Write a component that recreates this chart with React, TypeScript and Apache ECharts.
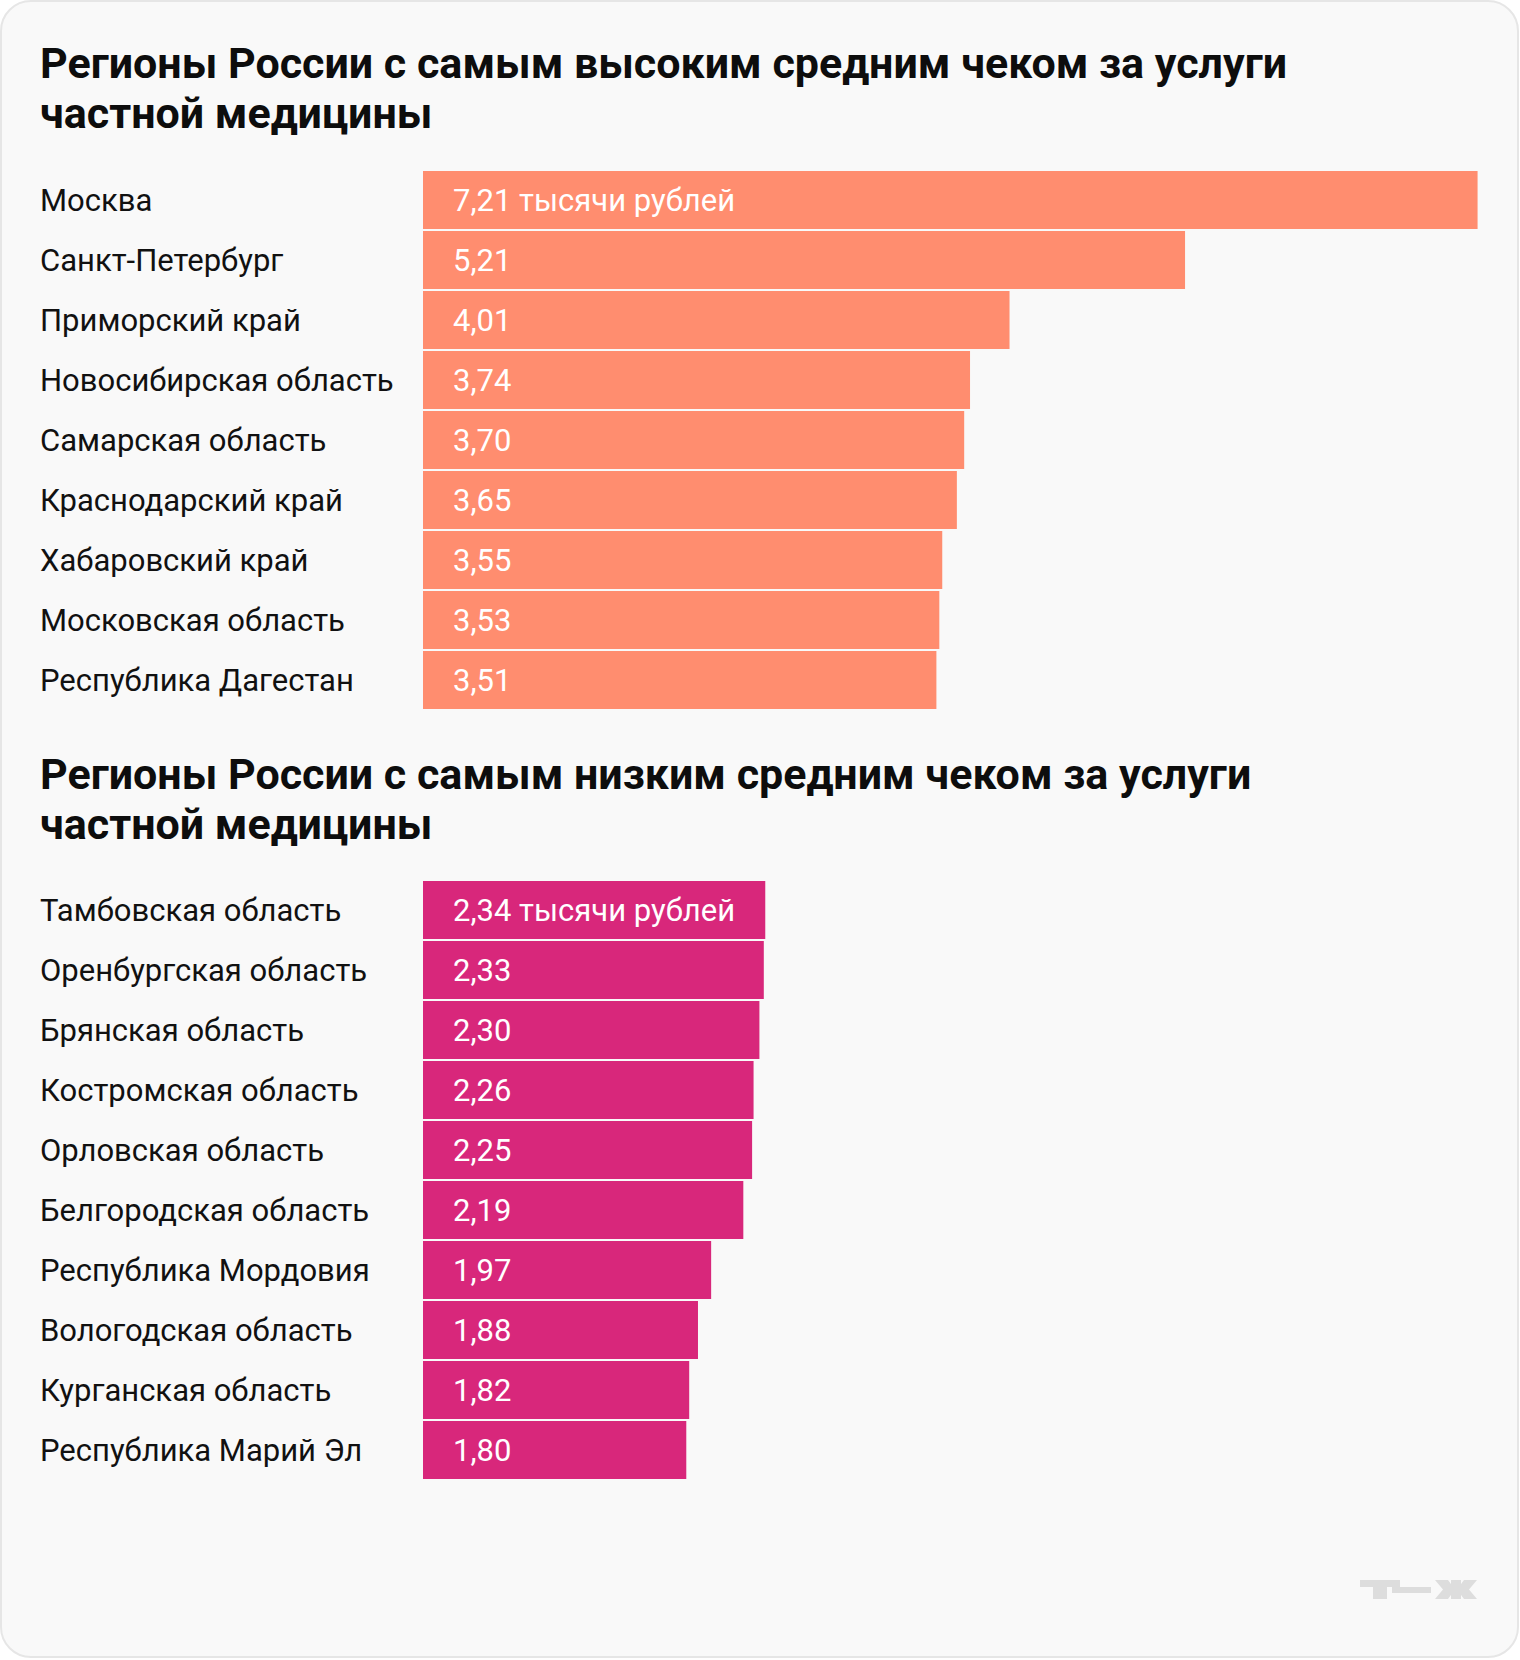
import React, { useEffect, useRef } from "react";
import * as echarts from "echarts";

const titleTop = "Регионы России с самым высоким средним чеком за услуги\nчастной медицины";
const titleBottom = "Регионы России с самым низким средним чеком за услуги\nчастной медицины";

const topRegions = [
  "Москва",
  "Санкт-Петербург",
  "Приморский край",
  "Новосибирская область",
  "Самарская область",
  "Краснодарский край",
  "Хабаровский край",
  "Московская область",
  "Республика Дагестан",
];
const topValues = [7.21, 5.21, 4.01, 3.74, 3.7, 3.65, 3.55, 3.53, 3.51];

const bottomRegions = [
  "Тамбовская область",
  "Оренбургская область",
  "Брянская область",
  "Костромская область",
  "Орловская область",
  "Белгородская область",
  "Республика Мордовия",
  "Вологодская область",
  "Курганская область",
  "Республика Марий Эл",
];
const bottomValues = [2.34, 2.33, 2.3, 2.26, 2.25, 2.19, 1.97, 1.88, 1.82, 1.8];

const unitSuffix = " тысячи рублей";

const FONT = "Roboto, 'Noto Sans', sans-serif";

function fmt(v: number, idx: number) {
  const s = v.toFixed(2).replace(".", ",");
  return idx === 0 ? s + unitSuffix : s;
}

export default function App() {
  const ref = useRef<HTMLDivElement>(null);
  useEffect(() => {
    if (!ref.current) return;
    const chart = echarts.init(ref.current, null, { renderer: "svg" });
    const logoColor = "#dddddd";
    const titleStyle = { fontFamily: FONT, fontSize: 43, fontWeight: "bold", lineHeight: 50, color: "#0d0d0d" };
    const labelStyle = { fontFamily: FONT, fontSize: 31, color: "#111111" };
    const option: any = {
      animation: false,
      backgroundColor: "#ffffff",
      title: [
        { text: titleTop, left: 40, top: 38, padding: 0, textStyle: titleStyle },
        { text: titleBottom, left: 40, top: 749, padding: 0, textStyle: titleStyle },
      ],
      graphic: [
        {
          type: "rect",
          z: -10,
          silent: true,
          shape: { x: 1, y: 1, width: 1517, height: 1656, r: 30 },
          style: { fill: "#f9f9f9", stroke: "#e6e6e6", lineWidth: 2 },
        },
        // logo т—ж
        { type: "rect", shape: { x: 1360, y: 1580, width: 40, height: 7 }, style: { fill: logoColor } },
        { type: "rect", shape: { x: 1373, y: 1580, width: 14, height: 19 }, style: { fill: logoColor } },
        { type: "rect", shape: { x: 1392, y: 1587, width: 39, height: 6 }, style: { fill: logoColor } },
        { type: "rect", shape: { x: 1451, y: 1580, width: 10, height: 19 }, style: { fill: logoColor } },
        {
          type: "polygon",
          shape: { points: [[1435, 1580], [1448, 1580], [1455, 1589.5], [1448, 1599], [1435, 1599], [1443, 1589.5]] },
          style: { fill: logoColor },
        },
        {
          type: "polygon",
          shape: { points: [[1477, 1580], [1464, 1580], [1457, 1589.5], [1464, 1599], [1477, 1599], [1469, 1589.5]] },
          style: { fill: logoColor },
        },
      ],
      grid: [
        { left: 423, top: 170, width: 1097, height: 540 },
        { left: 423, top: 880, width: 1097, height: 600 },
      ],
      xAxis: [
        { type: "value", gridIndex: 0, min: 0, max: 7.5, show: false },
        { type: "value", gridIndex: 1, min: 0, max: 7.5, show: false },
      ],
      yAxis: [
        {
          type: "category",
          gridIndex: 0,
          data: topRegions,
          inverse: true,
          axisLine: { show: false },
          axisTick: { show: false },
          axisLabel: { align: "left", margin: 383, ...labelStyle },
        },
        {
          type: "category",
          gridIndex: 1,
          data: bottomRegions,
          inverse: true,
          axisLine: { show: false },
          axisTick: { show: false },
          axisLabel: { align: "left", margin: 383, ...labelStyle },
        },
      ],
      series: [
        {
          type: "bar",
          xAxisIndex: 0,
          yAxisIndex: 0,
          data: topValues,
          barWidth: 58,
          itemStyle: { color: "#ff8d6f" },
          label: {
            show: true,
            position: "insideLeft",
            distance: 30,
            fontFamily: FONT,
            fontSize: 31,
            color: "#ffffff",
            formatter: (p: any) => fmt(p.value, p.dataIndex),
          },
        },
        {
          type: "bar",
          xAxisIndex: 1,
          yAxisIndex: 1,
          data: bottomValues,
          barWidth: 58,
          itemStyle: { color: "#d8277b" },
          label: {
            show: true,
            position: "insideLeft",
            distance: 30,
            fontFamily: FONT,
            fontSize: 31,
            color: "#ffffff",
            formatter: (p: any) => fmt(p.value, p.dataIndex),
          },
        },
      ],
    };
    chart.setOption(option);
    return () => chart.dispose();
  }, []);
  return (
    <div
      ref={ref}
      style={{ position: "absolute", left: 0, top: 0, width: 1520, height: 1660 }}
    />
  );
}
